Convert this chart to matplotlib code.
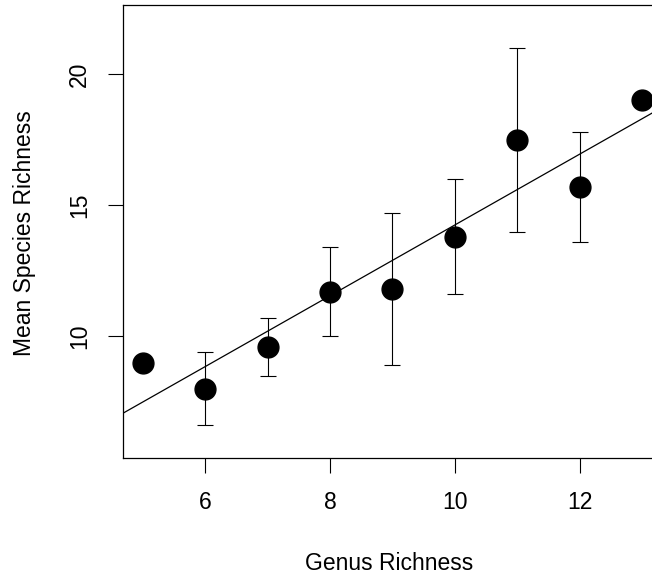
import numpy as np
import matplotlib
matplotlib.use("Agg")
import matplotlib.pyplot as plt

plt.rcParams['font.family'] = ['Liberation Sans', 'DejaVu Sans']

genus = [5, 6, 7, 8, 9, 10, 11, 12, 13]
mean_species = [9.0, 8.0, 9.6, 11.7, 11.8, 13.8, 17.5, 15.7, 19.0]
err_low = [None, 6.6, 8.5, 10.0, 8.9, 11.6, 14.0, 13.6, None]
err_high = [None, 9.4, 10.7, 13.4, 14.7, 16.0, 21.0, 17.8, None]
xticks = [6, 8, 10, 12]
yticks = [10, 15, 20]

W, H = 652, 576
fig = plt.figure(figsize=(W/100, H/100), dpi=100)
ax = fig.add_axes([123/W, (H-458)/H, (662-123)/W, (458-5)/H])

# error bars
ex, ey, elo, ehi = [], [], [], []
for x, y, lo, hi in zip(genus, mean_species, err_low, err_high):
    if lo is None:
        continue
    ex.append(x); ey.append(y); elo.append(y - lo); ehi.append(hi - y)
ax.errorbar(ex, ey, yerr=[elo, ehi], fmt='none', ecolor='black',
            elinewidth=0.8, capsize=5.8, capthick=0.8, zorder=2)

# regression line
slope, intercept = np.polyfit(genus, mean_species, 1)
xl = np.array([4.68, 13.32])
ax.plot(xl, slope*xl + intercept, color='black', lw=0.9, zorder=2)

ax.plot(genus, mean_species, 'o', color='black', markersize=15, zorder=3)

ax.set_xlim(4.68, 13.32)
ax.set_ylim(5.36, 22.64)
ax.set_xticks(xticks)
ax.set_yticks(yticks)
ax.tick_params(axis='both', length=10.8, width=0.8, labelsize=16.5)
ax.tick_params(axis='x', pad=13)
ax.tick_params(axis='y', pad=12, labelrotation=90)
for lab in ax.get_yticklabels():
    lab.set_va('center')
for s in ax.spines.values():
    s.set_linewidth(0.9)

fig.text(389/W, 1 - 563/H, 'Genus Richness', fontsize=16.5, ha='center', va='center')
fig.text(25/W, 1 - 233/H, 'Mean Species Richness', fontsize=16.5, ha='center', va='center', rotation=90)

fig.savefig('out.png', dpi=100)
